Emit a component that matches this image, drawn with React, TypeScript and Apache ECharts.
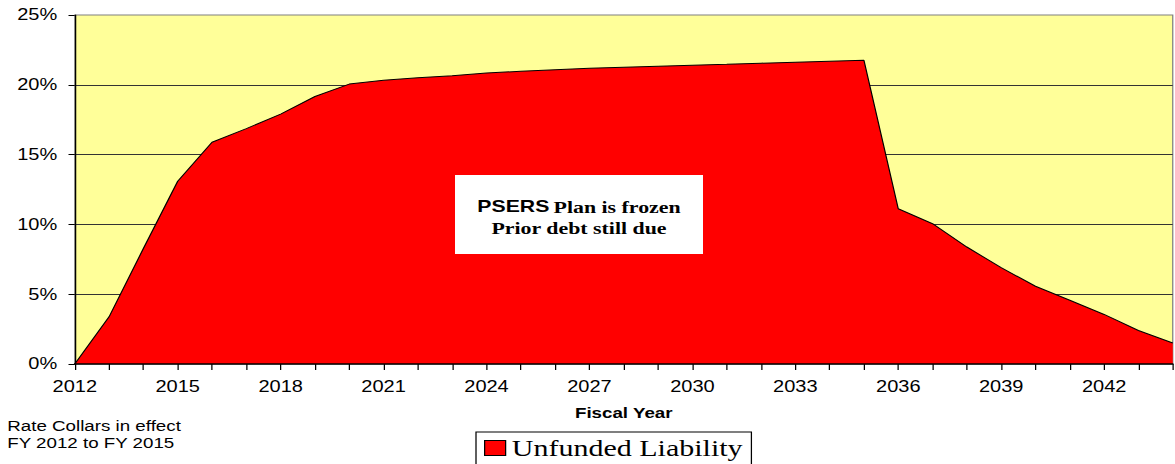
import React, { useEffect, useRef } from "react";
import * as echarts from "echarts";

// ---- data ----
const years: string[] = [
  "2012", "2013", "2014", "2015", "2016", "2017", "2018", "2019", "2020", "2021",
  "2022", "2023", "2024", "2025", "2026", "2027", "2028", "2029", "2030", "2031",
  "2032", "2033", "2034", "2035", "2036", "2037", "2038", "2039", "2040", "2041",
  "2042", "2043", "2044",
];
const unfundedLiability: number[] = [
  0, 3.38, 8.27, 13.09, 15.88, 16.86, 17.9, 19.16, 20.05, 20.33,
  20.5, 20.65, 20.85, 20.97, 21.08, 21.19, 21.26, 21.33, 21.4, 21.47,
  21.55, 21.62, 21.69, 21.76, 11.12, 10.05, 8.38, 6.9, 5.57, 4.57,
  3.55, 2.4, 1.5,
];
const seriesName = "Unfunded Liability";
const xAxisTitle = "Fiscal Year";
const yTickMin = 0;
const yTickMax = 25;
const yTickStep = 5;
const noteText = "Rate Collars in effect\nFY 2012 to FY 2015";
const boxLine1a = "PSERS";
const boxLine1b = "Plan is frozen";
const boxLine2 = "Prior debt still due";

// The reference is horizontally stretched; draw at a narrower width and stretch.
const STRETCH = 1.25;
const FULL_W = 1175;
const H = 464;
const W = FULL_W / STRETCH;

export default function App() {
  const ref = useRef<HTMLDivElement>(null);

  useEffect(() => {
    if (!ref.current) return;
    const chart = echarts.init(ref.current, null, { renderer: "svg" });
    const option: any = {
      animation: false,
      grid: {
        left: 59.8,
        right: 1.8,
        top: 15,
        bottom: 100,
        show: true,
        backgroundColor: "#FFFF99",
        borderColor: "#808080",
        borderWidth: 1,
      },
      xAxis: {
        type: "category",
        data: years,
        boundaryGap: false,
        z: 5,
        axisLine: { lineStyle: { color: "#000", width: 1.5 } },
        axisTick: { show: true, interval: 0, length: 6, lineStyle: { color: "#000" } },
        axisLabel: {
          interval: 2,
          margin: 15,
          color: "#000",
          fontFamily: "Liberation Sans",
          fontSize: 16,
        },
        splitLine: { show: false },
        name: xAxisTitle,
        nameLocation: "middle",
        nameGap: 42,
        nameTextStyle: {
          color: "#000",
          fontFamily: "Liberation Sans",
          fontWeight: "bold",
          fontSize: 15,
        },
      },
      yAxis: {
        type: "value",
        min: yTickMin,
        max: yTickMax,
        interval: yTickStep,
        axisLine: { show: true, lineStyle: { color: "#000", width: 1 } },
        axisTick: { show: true, length: 5, lineStyle: { color: "#000" } },
        axisLabel: {
          formatter: "{value}%",
          margin: 14,
          color: "#000",
          fontFamily: "Liberation Sans",
          fontSize: 16,
        },
        splitLine: {
          show: true,
          showMinLine: false,
          showMaxLine: false,
          lineStyle: { color: "#333", width: 1 },
        },
      },
      legend: {
        left: 380.8,
        top: 432,
        orient: "horizontal",
        padding: [4, 7, 6, 6.4],
        itemWidth: 16.8,
        itemHeight: 15,
        itemGap: 5,
        borderColor: "#000",
        borderWidth: 1,
        backgroundColor: "#fff",
        textStyle: {
          color: "#000",
          fontFamily: "Liberation Serif",
          fontSize: 24,
        },
        data: [
          {
            name: seriesName,
            icon: "rect",
            itemStyle: { color: "#FF0000", borderColor: "#000", borderWidth: 1 },
          },
        ],
      },
      series: [
        {
          name: seriesName,
          type: "line",
          data: unfundedLiability,
          symbol: "none",
          z: 2,
          itemStyle: { color: "#FF0000" },
          lineStyle: { color: "#000", width: 1 },
          areaStyle: { color: "#FF0000", opacity: 1 },
        },
      ],
      graphic: {
        elements: [
          {
            type: "rect",
            id: "noteBox",
            z: 100,
            shape: { x: 364, y: 175, width: 198.4, height: 79 },
            style: { fill: "#FFFFFF" },
          },
          {
            type: "text",
            id: "noteBoxText",
            z: 101,
            x: 463.2,
            y: 217.5,
            style: {
              text: "{a|" + boxLine1a + "} {b|" + boxLine1b + "}\n{b|" + boxLine2 + "}",
              align: "center",
              verticalAlign: "middle",
              fill: "#000",
              rich: {
                a: {
                  fontFamily: "Liberation Sans",
                  fontWeight: "bold",
                  fontSize: 17,
                  lineHeight: 21.6,
                },
                b: {
                  fontFamily: "Liberation Serif",
                  fontWeight: "bold",
                  fontSize: 17.5,
                  lineHeight: 21.6,
                },
              },
            },
          },
          {
            type: "text",
            id: "collarNote",
            x: 5.8,
            y: 416.9,
            z: 100,
            style: {
              text: noteText,
              fontFamily: "Liberation Sans",
              fontSize: 15,
              lineHeight: 17.6,
              align: "left",
              verticalAlign: "top",
              fill: "#000",
            },
          },
        ],
      },
    };
    chart.setOption(option);
    return () => {
      chart.dispose();
    };
  }, []);

  return (
    <div
      style={{
        position: "fixed",
        left: 0,
        top: 0,
        width: FULL_W,
        height: H,
        overflow: "hidden",
        background: "#fff",
      }}
    >
      <div
        ref={ref}
        style={{
          width: W,
          height: H,
          transform: `scaleX(${STRETCH})`,
          transformOrigin: "0 0",
        }}
      />
    </div>
  );
}
